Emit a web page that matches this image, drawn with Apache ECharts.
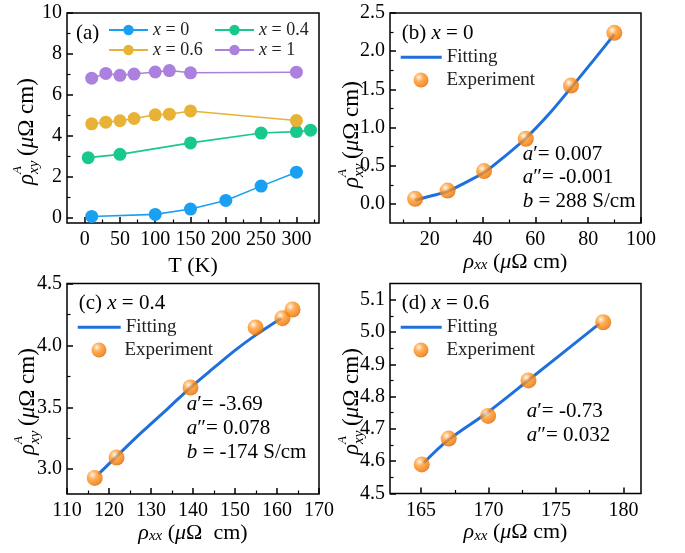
<!DOCTYPE html>
<html><head><meta charset="utf-8">
<script src="https://cdn.jsdelivr.net/npm/echarts@6/dist/echarts.min.js"></script>
<style>html,body{margin:0;padding:0;background:#fff}#c{width:685px;height:553px}</style>
</head><body><div id="c"></div>
<script>
// ---------- data ----------
// panel (a): rho_xy^A vs T
const T_x0   = [10, 100, 150, 200, 250, 300];
const rho_x0 = [0.07, 0.17, 0.43, 0.85, 1.55, 2.23];
const T_x04   = [5, 50, 150, 250, 300, 320];
const rho_x04 = [2.94, 3.10, 3.66, 4.14, 4.21, 4.28];
const T_x06   = [10, 30, 50, 70, 100, 120, 150, 300];
const rho_x06 = [4.59, 4.67, 4.74, 4.85, 5.03, 5.06, 5.22, 4.75];
const T_x1   = [10, 30, 50, 70, 100, 120, 150, 300];
const rho_x1 = [6.82, 7.05, 6.96, 7.02, 7.12, 7.19, 7.08, 7.11];
const namesA = ['x = 0', 'x = 0.4', 'x = 0.6', 'x = 1'];

// panel (b): x = 0
const expXX_b = [14.5, 26.8, 40.6, 56.4, 73.5, 89.9];
const expXY_b = [0.066, 0.175, 0.43, 0.853, 1.549, 2.24];
const fitXX_b = [14.5, 20, 26.8, 33, 40.6, 48, 56.4, 65, 73.5, 82, 89.9];
const fitXY_b = [0.05, 0.10, 0.165, 0.27, 0.41, 0.61, 0.86, 1.17, 1.52, 1.88, 2.22];

// panel (c): x = 0.4
const expXX_c = [116.6, 121.8, 139.4, 154.9, 161.3, 163.7];
const expXY_c = [2.93, 3.095, 3.66, 4.145, 4.22, 4.29];
const fitXX_c = [117.5, 122, 128, 134, 139.4, 145, 150, 155, 161];
const fitXY_c = [2.96, 3.11, 3.305, 3.49, 3.66, 3.82, 3.96, 4.085, 4.22];

// panel (d): x = 0.6
const expXX_d = [165.05, 167.05, 169.97, 172.96, 178.5];
const expXY_d = [4.59, 4.67, 4.74, 4.85, 5.03];
const fitXX_d = [165.2, 167, 170, 173, 178.2];
const fitXY_d = [4.595, 4.665, 4.753, 4.852, 5.025];

// tick values / labels
const ticksAx = [0, 50, 100, 150, 200, 250, 300];
const labelsAx = ['0', '50', '100', '150', '200', '250', '300'];
const minorAx = [25, 75, 125, 175, 225, 275, 325];
const ticksAy = [0, 2, 4, 6, 8, 10];
const labelsAy = ['0', '2', '4', '6', '8', '10'];
const minorAy = [1, 3, 5, 7, 9];
const ticksBx = [20, 40, 60, 80, 100];
const labelsBx = ['20', '40', '60', '80', '100'];
const minorBx = [10, 30, 50, 70, 90];
const ticksBy = [0, 0.5, 1, 1.5, 2, 2.5];
const labelsBy = ['0.0', '0.5', '1.0', '1.5', '2.0', '2.5'];
const minorBy = [0.25, 0.75, 1.25, 1.75, 2.25];
const ticksCx = [110, 120, 130, 140, 150, 160, 170];
const labelsCx = ['110', '120', '130', '140', '150', '160', '170'];
const minorCx = [115, 125, 135, 145, 155, 165];
const ticksCy = [3.0, 3.5, 4.0, 4.5];
const labelsCy = ['3.0', '3.5', '4.0', '4.5'];
const minorCy = [3.25, 3.75, 4.25];
const ticksDx = [165, 170, 175, 180];
const labelsDx = ['165', '170', '175', '180'];
const minorDx = [167.5, 172.5, 177.5];
const ticksDy = [4.5, 4.6, 4.7, 4.8, 4.9, 5.0, 5.1];
const labelsDy = ['4.5', '4.6', '4.7', '4.8', '4.9', '5.0', '5.1'];
const minorDy = [4.55, 4.65, 4.75, 4.85, 4.95, 5.05];

// ---------- styling ----------
const FONT = "'Liberation Serif', 'DejaVu Serif', serif";
const colorsA = ['#1aa0f0', '#19c98c', '#e8b236', '#ab80df'];
const fitColor = '#1f6fdc';
const sphere = {type: 'radial', x: 0.36, y: 0.32, r: 0.72, colorStops: [
  {offset: 0, color: '#ffffff'}, {offset: 0.12, color: '#ffd6a8'},
  {offset: 0.38, color: '#ff9a2e'}, {offset: 0.8, color: '#f27a00'}, {offset: 1, color: '#d96200'}]};

const nameRich = {
  i: {fontFamily: FONT, fontStyle: 'italic', fontSize: 22, lineHeight: 22, verticalAlign: 'middle', color: '#000'},
  n: {fontFamily: FONT, fontSize: 22, lineHeight: 22, verticalAlign: 'middle', color: '#000'},
  sub: {fontFamily: FONT, fontStyle: 'italic', fontSize: 15, lineHeight: 15, verticalAlign: 'bottom', color: '#000'}
};
const nameStyle = {fontFamily: FONT, fontSize: 22, lineHeight: 30, color: '#000', rich: nameRich};
const xxName = '{i|ρ}{sub|xx}{n| (}{i|μ}{n|Ω cm)}';
const xxNameC = '{i|ρ}{sub|xx}{n| (}{i|μ}{n|Ω  cm)}';

const grids = [
  {left: 67, top: 13, width: 252, height: 210},
  {left: 390, top: 13, width: 251, height: 210},
  {left: 67, top: 283.5, width: 252, height: 210.5},
  {left: 390, top: 283.5, width: 251, height: 210}
].map(g => Object.assign(g, {show: true, borderColor: '#000', borderWidth: 1.5, backgroundColor: 'transparent'}));

const xAxes = [], yAxes = [];
function addAxes(list, kind, gi, min, max, ticks, labels, minor, name, nameGap) {
  const lab = v => { const k = ticks.findIndex(t => Math.abs(t - v) < 1e-7); return k >= 0 ? labels[k] : ''; };
  list.push({
    type: 'value', gridIndex: gi, min, max, position: kind === 'x' ? 'bottom' : 'left', offset: 0,
    axisLine: {show: false, onZero: false}, splitLine: {show: false},
    axisTick: {show: true, inside: true, length: 6, lineStyle: {color: '#000', width: 1.5}, customValues: ticks},
    axisLabel: {show: true, color: '#000', fontFamily: FONT, fontSize: 20, margin: kind === 'x' ? 7 : 5,
      customValues: ticks, formatter: lab, hideOverlap: false},
    name: name || '', nameLocation: 'middle', nameGap: nameGap || 0, nameTextStyle: nameStyle
  });
  const main = list.length - 1;
  list.push({
    type: 'value', gridIndex: gi, min, max, position: kind === 'x' ? 'bottom' : 'left', offset: 0,
    axisLine: {show: false, onZero: false}, splitLine: {show: false}, axisLabel: {show: false},
    axisTick: {show: true, inside: true, length: 3.5, lineStyle: {color: '#000', width: 1.2}, customValues: minor}
  });
  return main;
}
const xa = addAxes(xAxes, 'x', 0, -25, 332, ticksAx, labelsAx, minorAx, 'T (K)', 14);
const ya = addAxes(yAxes, 'y', 0, -0.25, 10, ticksAy, labelsAy, minorAy);
const xb = addAxes(xAxes, 'x', 1, 5, 100, ticksBx, labelsBx, minorBx, xxName, 12);
const yb = addAxes(yAxes, 'y', 1, -0.25, 2.5, ticksBy, labelsBy, minorBy);
const xc = addAxes(xAxes, 'x', 2, 110, 170, ticksCx, labelsCx, minorCx, xxNameC, 28);
const yc = addAxes(yAxes, 'y', 2, 2.8, 4.5, ticksCy, labelsCy, minorCy);
const xd = addAxes(xAxes, 'x', 3, 162.7, 181.3, ticksDx, labelsDx, minorDx, xxName, 25);
const yd = addAxes(yAxes, 'y', 3, 4.5, 5.15, ticksDy, labelsDy, minorDy);

const zip = (a, b) => a.map((v, k) => [v, b[k]]);
const series = [];
const setsA = [[T_x0, rho_x0], [T_x04, rho_x04], [T_x06, rho_x06], [T_x1, rho_x1]];
setsA.forEach((s, k) => series.push({
  type: 'line', name: namesA[k], xAxisIndex: xa, yAxisIndex: ya, data: zip(s[0], s[1]),
  symbol: 'circle', symbolSize: 13, color: colorsA[k],
  lineStyle: {width: 1.6, color: colorsA[k]}, itemStyle: {color: colorsA[k]}, z: 3 + k
}));
const fits = [[xb, yb, fitXX_b, fitXY_b, expXX_b, expXY_b], [xc, yc, fitXX_c, fitXY_c, expXX_c, expXY_c], [xd, yd, fitXX_d, fitXY_d, expXX_d, expXY_d]];
fits.forEach(f => {
  series.push({type: 'line', name: 'Fitting', xAxisIndex: f[0], yAxisIndex: f[1], data: zip(f[2], f[3]),
    smooth: 0.3, showSymbol: false, symbol: 'none', color: fitColor, lineStyle: {width: 3, color: fitColor}, z: 3});
  series.push({type: 'scatter', name: 'Experiment', xAxisIndex: f[0], yAxisIndex: f[1], data: zip(f[4], f[5]),
    symbol: 'circle', symbolSize: 16, itemStyle: {color: sphere}, z: 4});
});

function leg(name, left, cy, itemWidth, itemHeight, fontSize, opts) {
  opts = opts || {};
  const l = {
    data: [name], left, top: cy - 10, padding: 0, itemWidth, itemHeight, selectedMode: false,
    textStyle: {fontFamily: FONT, fontSize, color: '#222', lineHeight: 20,
      rich: {i: {fontFamily: FONT, fontStyle: 'italic', fontSize, color: '#222', lineHeight: 20},
             p: {width: opts.pad || 0, lineHeight: 20}}},
    formatter: opts.italicX ? (n => '{i|x}' + n.slice(1)) : (opts.pad ? (n => '{p|}' + n) : (n => n))
  };
  if (opts.icon) l.icon = opts.icon;
  return l;
}
const legends = [
  leg(namesA[0], 108, 30, 39, 13, 18, {italicX: true}), leg(namesA[1], 214, 30, 39, 13, 18, {italicX: true}),
  leg(namesA[2], 108, 50, 39, 13, 18, {italicX: true}), leg(namesA[3], 214, 50, 39, 13, 18, {italicX: true}),
  leg('Fitting', 400.7, 57.3, 41, 3, 19, {icon: 'rect'}), leg('Experiment', 413.5, 80, 15, 15, 19, {pad: 13}),
  leg('Fitting', 77.7, 327.3, 43, 3, 19, {icon: 'rect'}), leg('Experiment', 91.5, 350, 15, 15, 19, {pad: 13}),
  leg('Fitting', 400.7, 327.3, 41, 3, 19, {icon: 'rect'}), leg('Experiment', 413.5, 350, 15, 15, 19, {pad: 13})
];

const txtRich = {
  i: {fontFamily: FONT, fontStyle: 'italic', fontSize: 21, fill: '#000'},
  n: {fontFamily: FONT, fontSize: 21, fill: '#000'}
};
function txt(text, x, y, size) {
  return {type: 'text', x, y, z: 100, style: {text, fill: '#000', fontFamily: FONT, fontSize: size || 21,
    verticalAlign: 'middle', align: 'left', rich: txtRich}};
}
// rotated y-axis title: rho with stacked superscript A and subscript xy
function ytitle(cx, bottomY) {
  const it = s => ({fontFamily: FONT, fontStyle: 'italic', fontSize: s, fill: '#000', verticalAlign: 'middle', align: 'left'});
  return {type: 'group', x: cx, y: bottomY, rotation: Math.PI / 2, z: 100, children: [
    {type: 'text', x: 0, y: 0, style: Object.assign({text: 'ρ'}, it(23))},
    {type: 'text', x: 11, y: -9, style: Object.assign({text: 'A'}, it(13))},
    {type: 'text', x: 11, y: 7, style: Object.assign({text: 'xy'}, it(15))},
    {type: 'text', x: 29, y: 0, style: {text: '(' + '{i|μ}' + 'Ω cm)', fill: '#000', fontFamily: FONT, fontSize: 23,
      verticalAlign: 'middle', align: 'left',
      rich: {i: {fontFamily: FONT, fontStyle: 'italic', fontSize: 23, fill: '#000'}}}}
  ]};
}
const graphics = [
  txt('(a)', 76, 33),
  txt('(b) {i|x} = 0', 401.7, 33.3),
  txt('(c) {i|x} = 0.4', 78.7, 303.3),
  txt('(d) {i|x} = 0.6', 401.7, 303.3),
  txt('{i|a}′= 0.007', 522.7, 154),
  txt('{i|a}″= -0.001', 522.7, 177.3),
  txt('{i|b} = 288 S/cm', 522.7, 201.3),
  txt('{i|a}′= -3.69', 186.7, 404),
  txt('{i|a}″= 0.078', 186.7, 428),
  txt('{i|b} = -174 S/cm', 186.7, 452),
  txt('{i|a}′= -0.73', 526.7, 411.7),
  txt('{i|a}″= 0.032', 526.7, 435.7),
  ytitle(27, 185),
  ytitle(352, 188),
  ytitle(28, 455),
  ytitle(352, 455)
];

const chart = echarts.init(document.getElementById('c'), null, {renderer: 'canvas'});
chart.setOption({
  backgroundColor: '#fff', animation: false,
  grid: grids, xAxis: xAxes, yAxis: yAxes, series, legend: legends, graphic: graphics
});
</script></body></html>
